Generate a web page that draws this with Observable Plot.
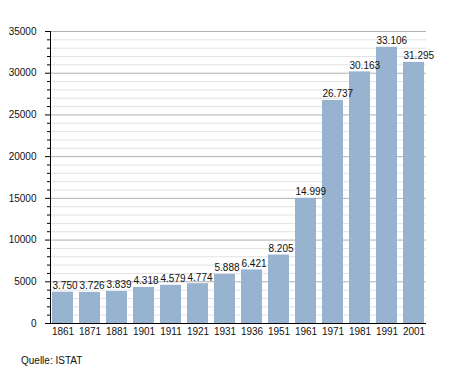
<!DOCTYPE html>
<html>
<head>
<meta charset="utf-8">
<script src="https://cdn.jsdelivr.net/npm/d3@7"></script>
<script src="https://cdn.jsdelivr.net/npm/@observablehq/plot@0.6"></script>
<style>
  body { margin: 0; background: #fff; font-family: "Liberation Sans", Arial, sans-serif; }
  #chart { position: relative; width: 455px; height: 373px; }
  #caption { position: absolute; left: 21px; top: 355px; font-size: 10px; color: #111; }
</style>
</head>
<body>
<div id="chart"><div id="caption">Quelle: ISTAT</div></div>
<script>
const years = ["1861","1871","1881","1901","1911","1921","1931","1936","1951","1961","1971","1981","1991","2001"];
const population = [3750,3726,3839,4318,4579,4774,5888,6421,8205,14999,26737,30163,33106,31295];
const labels = ["3.750","3.726","3.839","4.318","4.579","4.774","5.888","6.421","8.205","14.999","26.737","30.163","33.106","31.295"];
const majorTicks = [0,5000,10000,15000,20000,25000,30000,35000];
const minorTicks = d3.range(0, 35001, 1000).filter(v => v % 5000 !== 0);

const data = years.map((y, i) => ({year: y, value: population[i], label: labels[i]}));

const plot = Plot.plot({
  width: 455,
  height: 345,
  marginTop: 31,
  marginLeft: 50,
  marginRight: 29,
  marginBottom: 22,
  style: {fontFamily: "'Liberation Sans', Arial, sans-serif", fontSize: "10px", color: "#111"},
  x: {domain: years, paddingInner: 0.23, paddingOuter: 0.04, label: null},
  y: {domain: [0, 35000], label: null},
  marks: [
    Plot.ruleY(minorTicks, {stroke: "#e2e2e2", strokeWidth: 1}),
    Plot.ruleY(majorTicks.filter(d => d > 0), {stroke: "#b0b0b0", strokeWidth: 1}),
    Plot.barY(data, {x: "year", y: "value", fill: "#98b3d0"}),
    Plot.text(data, {
      x: "year", y: "value", text: "label",
      textAnchor: "start", lineAnchor: "bottom", dy: -3,
      dx: -10.5, fill: "#111", fontSize: 10
    }),
    Plot.axisY(minorTicks, {tickSize: 3, text: null, label: null, stroke: "#000"}),
    Plot.axisY(majorTicks, {tickSize: 5, tickPadding: 9, tickFormat: d => String(d), label: null, stroke: "#000"}),
    Plot.axisX({tickSize: 0, tickPadding: 4, label: null}),
    Plot.frame({anchor: "left", stroke: "#000"}),
    Plot.ruleY([0], {stroke: "#000", strokeWidth: 1.2})
  ]
});
document.getElementById("chart").prepend(plot);
</script>
</body>
</html>
